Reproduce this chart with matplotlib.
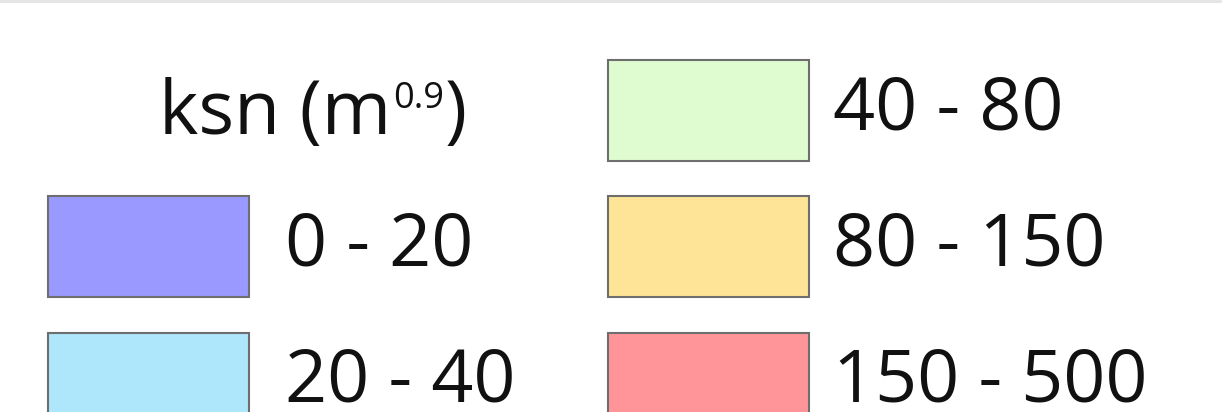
import matplotlib.pyplot as plt
from matplotlib.patches import Rectangle

plt.rcParams['font.family'] = ['Open Sans', 'DejaVu Sans']

title_main = 'ksn (m'
title_sup = '0.9'
title_end = ')'
labels = ['0 - 20', '20 - 40', '40 - 80', '80 - 150', '150 - 500']
colors = ['#9999ff', '#aee6fb', '#dffbd0', '#fde496', '#ff9598']
# grid slot (column, row) of each entry, the title sits in slot (0, 0)
slots = [(0, 1), (0, 2), (1, 0), (1, 1), (1, 2)]

fig = plt.figure(figsize=(12.22, 4.12), dpi=100)
ax = fig.add_axes([0, 0, 1, 1])
ax.set_xlim(0, 1222)
ax.set_ylim(412, 0)
ax.axis('off')

col_x = [48, 608]
col_gap = [36, 24]
row_y = [60, 196, 333]
box_w, box_h = 201, 101
ink = '#111111'

ax.axhline(1, color='#e4e4e4', lw=2)

# title with a small superscript, pieces chained onto each other
t1 = ax.text(159, 134, title_main, fontsize=54, va='baseline', ha='left', color=ink)
t2 = ax.annotate(title_sup, xy=(1, 1), xycoords=t1, xytext=(1, -3),
                 textcoords='offset points', fontsize=26, va='top', ha='left', color=ink)
ax.annotate(title_end, xy=(1, 0), xycoords=(t2, t1), xytext=(1, 0),
            textcoords='offset points', fontsize=54, va='bottom', ha='left', color=ink)

for lab, c, (ci, ri) in zip(labels, colors, slots):
    x0 = col_x[ci]
    y0 = row_y[ri]
    ax.add_patch(Rectangle((x0, y0), box_w, box_h, facecolor=c,
                           edgecolor='#6e6e6e', lw=1.5))
    ax.text(x0 + box_w + col_gap[ci], y0 + 69, lab, fontsize=53, va='baseline',
            ha='left', color=ink)

fig.savefig('out.png', dpi=100)
